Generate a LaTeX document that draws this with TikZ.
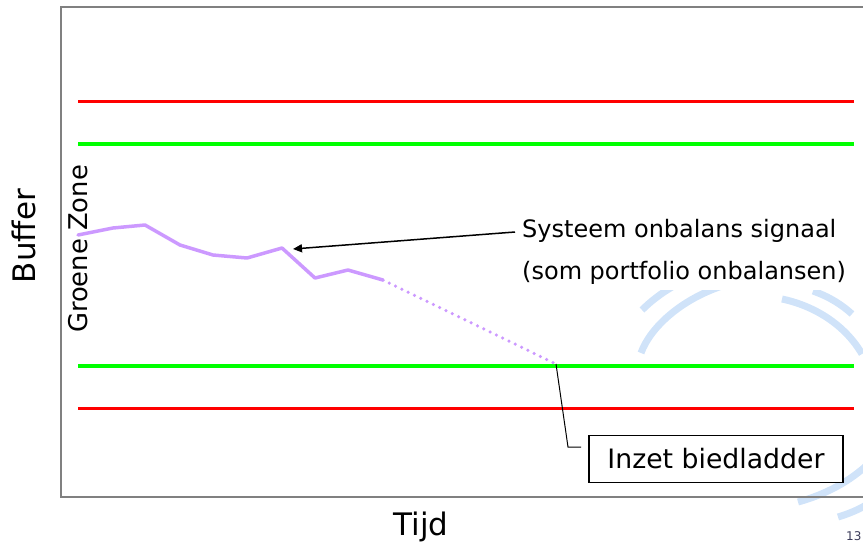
\documentclass[tikz,border=0pt]{standalone}
\usepackage{fontspec}
\setmainfont{DejaVu Sans}
\usetikzlibrary{arrows.meta}
\definecolor{framegray}{RGB}{128,128,128}
\definecolor{zonered}{RGB}{255,0,0}
\definecolor{zonegreen}{RGB}{0,255,0}
\definecolor{sigpurple}{RGB}{204,153,255}
\definecolor{logoblue}{RGB}{208,227,249}
\definecolor{pagenum}{RGB}{60,60,90}
\tikzset{
  redline/.style={draw=zonered, line width=3pt},
  greenline/.style={draw=zonegreen, line width=4pt},
  sigline/.style={draw=sigpurple, line width=3.5pt, line join=round, line cap=round},
  sigdots/.style={draw=sigpurple, line width=3.5pt, line cap=round, dash pattern=on 0pt off 7pt},
  logoarc/.style={draw=logoblue, line width=7pt},
  lbl/.style={font=\fontsize{24}{42}\selectfont, inner sep=0pt},
  axislbl/.style={font=\fontsize{31}{36}\selectfont, inner sep=0pt},
}
\begin{document}
\begin{tikzpicture}[x=1pt,y=-1pt]
\useasboundingbox (0,0) rectangle (863,544);
% background logo arcs
\draw[logoarc] (641,353) .. controls (650,328) and (680,300) .. (722,286);
\draw[logoarc] (642,310) .. controls (650,302) and (660,294) .. (672,287);
\draw[logoarc] (782,299) .. controls (815,306) and (845,325) .. (862,354);
\draw[logoarc] (813,291) .. controls (830,297) and (842,305) .. (852,314);
\draw[logoarc] (798,502) .. controls (820,496) and (845,485) .. (866,466);
\draw[logoarc] (838,517) .. controls (848,514) and (858,510) .. (866,505);
% frame
\draw[framegray, line width=2pt] (870,7) -- (61,7) -- (61,497) -- (870,497);
% zone lines
\draw[redline] (78,101) -- (854,101);
\draw[greenline] (78,144) -- (854,144);
\draw[greenline] (78,366) -- (854,366);
\draw[redline] (78,408) -- (854,408);
% signal
\coordinate (p1) at (78,235);
\coordinate (p2) at (113,228);
\coordinate (p3) at (145,225);
\coordinate (p4) at (180,245);
\coordinate (p5) at (213,255);
\coordinate (p6) at (247,258);
\coordinate (p7) at (282,248);
\coordinate (p8) at (315,278);
\coordinate (p9) at (348,270);
\coordinate (p10) at (383,280);
\coordinate (pend) at (556,364);
\draw[sigline] (p1) -- (p2) -- (p3) -- (p4) -- (p5) -- (p6) -- (p7) -- (p8) -- (p9) -- (p10);
\draw[sigdots] (p10) -- (pend);
% labels
\node[font=\fontsize{25.8}{30}\selectfont, inner sep=0pt, anchor=base, rotate=90] (zone) at (87,249) {Groene Zone};
\node[axislbl, anchor=base, rotate=90] (buffer) at (35,236) {Buffer};
\node[axislbl, anchor=base] (tijd) at (421,535) {Tijd};
\node[font=\fontsize{12}{14}\selectfont, text=pagenum, inner sep=0pt, anchor=base west] (num) at (846,540) {13};
\node[lbl, fill=white, align=left, anchor=north west, inner xsep=3pt, inner ysep=6pt] (sys) at (519,213)
  {Systeem onbalans signaal\\(som portfolio onbalansen)};
\coordinate (arrstart) at (515,232);
\coordinate (arrend) at (293,249);
\draw[line width=1.5pt, -{Triangle[length=9pt, width=8pt]}] (arrstart) -- (arrend);
\node[draw=black, line width=1.2pt, fill=white, minimum width=254pt, minimum height=47pt,
      font=\fontsize{26.7}{30}\selectfont, inner sep=0pt] (box) at (716,459) {Inzet biedladder};
\coordinate (lk) at (568,447);
\coordinate (lend) at (581,447);
\draw[line width=1pt] (pend) -- (lk) -- (lend);
\end{tikzpicture}
\end{document}
